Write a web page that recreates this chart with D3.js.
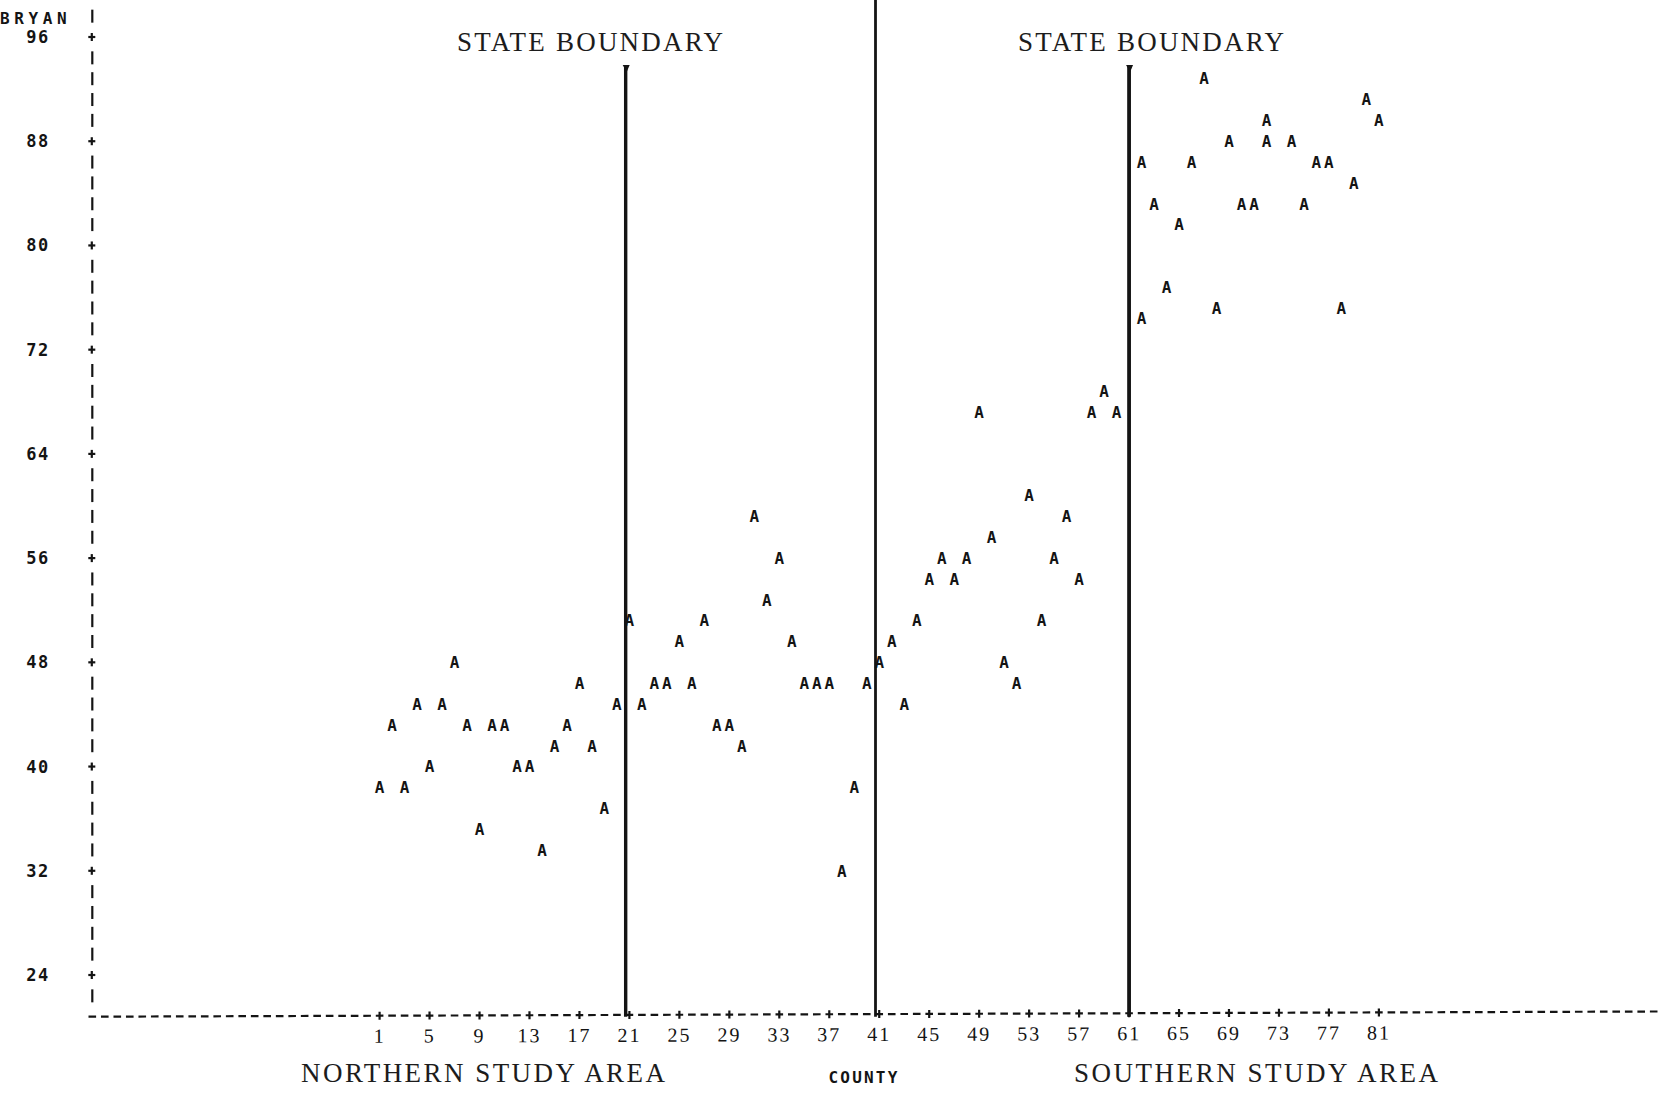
<!DOCTYPE html>
<html>
<head>
<meta charset="utf-8">
<script src="https://cdn.jsdelivr.net/npm/d3@7"></script>
<style>
  html, body { margin: 0; padding: 0; background: #fff; }
  svg { display: block; }
</style>
</head>
<body>
<script>
// County index of each plotted "A" and its BRYAN score
const counties = [
   1,  2,  3,  4,  5,  6,  7,  8,  9, 10,
  11, 12, 13, 14, 15, 16, 17, 18, 19, 20,
  21, 22, 23, 24, 25, 26, 27, 28, 29, 30,
  31, 32, 33, 34, 35, 36, 37, 38, 39, 40,
  41, 42, 43, 44, 45, 46, 47, 48, 49, 50,
  51, 52, 53, 54, 55, 56, 57, 58, 59, 60,
  62, 62, 63, 64, 65, 66, 67, 68, 69, 70,
  71, 72, 72, 74, 75, 76, 77, 78, 79, 80, 81
];
const bryan = [
  38.4, 43.2, 38.4, 44.8, 40.0, 44.8, 48.0, 43.2, 35.2, 43.2,
  43.2, 40.0, 40.0, 33.6, 41.6, 43.2, 46.4, 41.6, 36.8, 44.8,
  51.2, 44.8, 46.4, 46.4, 49.6, 46.4, 51.2, 43.2, 43.2, 41.6,
  59.2, 52.8, 56.0, 49.6, 46.4, 46.4, 46.4, 32.0, 38.4, 46.4,
  48.0, 49.6, 44.8, 51.2, 54.4, 56.0, 54.4, 56.0, 67.2, 57.6,
  48.0, 46.4, 60.8, 51.2, 56.0, 59.2, 54.4, 67.2, 68.8, 67.2,
  86.4, 74.4, 83.2, 76.8, 81.6, 86.4, 92.8, 75.2, 88.0, 83.2,
  83.2, 89.6, 88.0, 88.0, 83.2, 86.4, 86.4, 75.2, 84.8, 91.2, 89.6
];

// Axis ticks and labels
const yTicks = [96, 88, 80, 72, 64, 56, 48, 40, 32, 24];
const xTicks = [1, 5, 9, 13, 17, 21, 25, 29, 33, 37, 41, 45, 49, 53, 57, 61, 65, 69, 73, 77, 81];
const yTitle = "BRYAN";
const xTitle = "COUNTY";
const boundaryLabel = "STATE BOUNDARY";
const areaLabels = ["NORTHERN STUDY AREA", "SOUTHERN STUDY AREA"];

// State boundary lines: county position and top value
const boundaryCounty = [20.7, 40.7, 61];
const boundaryTop = [93.85, 99, 93.85];

const W = 1658, H = 1094;
const ink = "#141414";
const printFont = "'DejaVu Sans Mono', monospace";
const typeFont = "'Liberation Serif', 'Times New Roman', serif";

const svg = d3.select("body").append("svg")
  .attr("width", W).attr("height", H)
  .attr("viewBox", `0 0 ${W} ${H}`);
svg.append("rect").attr("width", W).attr("height", H).attr("fill", "#fff");

const x = d3.scaleLinear().domain([1, 81]).range([379.6, 1378.9]);
const y = d3.scaleLinear().domain([24, 96]).range([975, 37]);

// printer grid: one column per county, 1.6 score units per row
const rowStep = 1.6;
const axisCounty = -22;        // column of the vertical axis
const baseValue = 20.8;        // row of the horizontal axis
const xEndCounty = 104;

// ---- vertical axis: "|" on each row, "+" on labelled rows
const yAxis = svg.append("g").attr("stroke", ink).attr("fill", "none");
const ax = x(axisCounty);
const rows = d3.range(0, 48).map(i => +(97.6 - i * rowStep).toFixed(1));
rows.forEach(v => {
  const yy = y(v);
  if (yTicks.includes(Math.round(v * 10) / 10)) {
    yAxis.append("line").attr("x1", ax - 4).attr("x2", ax + 3)
      .attr("y1", yy).attr("y2", yy).attr("stroke-width", 2.2);
    yAxis.append("line").attr("x1", ax - 0.5).attr("x2", ax - 0.5)
      .attr("y1", yy - 4).attr("y2", yy + 4).attr("stroke-width", 2.2);
  } else {
    yAxis.append("line").attr("x1", ax).attr("x2", ax)
      .attr("y1", yy - 6.5).attr("y2", yy + 6.5).attr("stroke-width", 2.2);
  }
});

svg.append("g").selectAll("text").data(yTicks).join("text")
  .attr("x", 38).attr("y", d => y(d) + 6)
  .attr("text-anchor", "middle")
  .attr("font-family", printFont).attr("font-size", 17).attr("font-weight", "bold")
  .attr("letter-spacing", 1.5)
  .attr("fill", ink)
  .text(d => d);

svg.append("text")
  .attr("x", 0).attr("y", 24)
  .attr("font-family", printFont).attr("font-size", 16).attr("font-weight", "bold")
  .attr("letter-spacing", 4.6)
  .attr("fill", ink)
  .text(yTitle);

// ---- horizontal axis: "-" on each column, "+" on labelled columns
const by = y(baseValue);
const xAxis = svg.append("g")
  .attr("transform", `rotate(-0.19, ${ax}, ${by})`);
const axisMarks = xAxis.append("g").attr("stroke", ink).attr("fill", "none");
d3.range(axisCounty, xEndCounty + 1).forEach(c => {
  const xx = x(c);
  axisMarks.append("line").attr("x1", xx - 3.8).attr("x2", xx + 3.8)
    .attr("y1", by).attr("y2", by).attr("stroke-width", 2.2);
  if (xTicks.includes(c)) {
    axisMarks.append("line").attr("x1", xx).attr("x2", xx)
      .attr("y1", by - 4).attr("y2", by + 4).attr("stroke-width", 2.2);
  }
});
xAxis.append("g").selectAll("text").data(xTicks).join("text")
  .attr("x", d => x(d)).attr("y", by + 27)
  .attr("text-anchor", "middle")
  .attr("font-family", typeFont).attr("font-size", 20)
  .attr("letter-spacing", 2)
  .attr("fill", ink)
  .text(d => d);

// ---- state boundary lines
const lineWidths = [3.4, 2.8, 3.8];
svg.append("g").selectAll("line").data(boundaryCounty).join("line")
  .attr("x1", d => x(d)).attr("x2", d => x(d))
  .attr("y1", (d, i) => y(boundaryTop[i]))
  .attr("y2", by)
  .attr("stroke", ink)
  .attr("stroke-width", (d, i) => lineWidths[i]);
// small printed caps on the shorter lines
[0, 2].forEach(i => {
  const xx = x(boundaryCounty[i]), yy = y(boundaryTop[i]);
  svg.append("path")
    .attr("d", `M${xx - 3},${yy} L${xx + 4},${yy} L${xx + 1},${yy + 7} Z`)
    .attr("fill", ink);
});

// ---- titles (typewritten, spread to a fixed pitch)
const titleX = [590, 1151];
svg.append("g").selectAll("text").data(titleX).join("text")
  .attr("x", d => d - 133).attr("y", 51)
  .attr("textLength", 266).attr("lengthAdjust", "spacing")
  .attr("font-family", typeFont).attr("font-size", 27)
  .attr("fill", "#1c1c1c")
  .text(boundaryLabel);

const areaX = [483, 1256];
svg.append("g").selectAll("text").data(areaLabels).join("text")
  .attr("x", (d, i) => areaX[i] - 182).attr("y", 1082)
  .attr("textLength", 364).attr("lengthAdjust", "spacing")
  .attr("font-family", typeFont).attr("font-size", 27)
  .attr("fill", "#1c1c1c")
  .text(d => d);

svg.append("text")
  .attr("x", 864).attr("y", 1083)
  .attr("text-anchor", "middle")
  .attr("font-family", printFont).attr("font-size", 16).attr("font-weight", "bold")
  .attr("letter-spacing", 2.2)
  .attr("fill", ink)
  .text(xTitle);

// ---- plotted points, one "A" per county
const pts = counties.map((c, i) => ({ c, v: bryan[i] }));
svg.append("g").selectAll("text").data(pts).join("text")
  .attr("x", d => x(d.c)).attr("y", d => y(d.v) + 5.8)
  .attr("text-anchor", "middle")
  .attr("font-family", printFont).attr("font-size", 16).attr("font-weight", "bold")
  .attr("fill", ink)
  .text("A");
</script>
</body>
</html>
